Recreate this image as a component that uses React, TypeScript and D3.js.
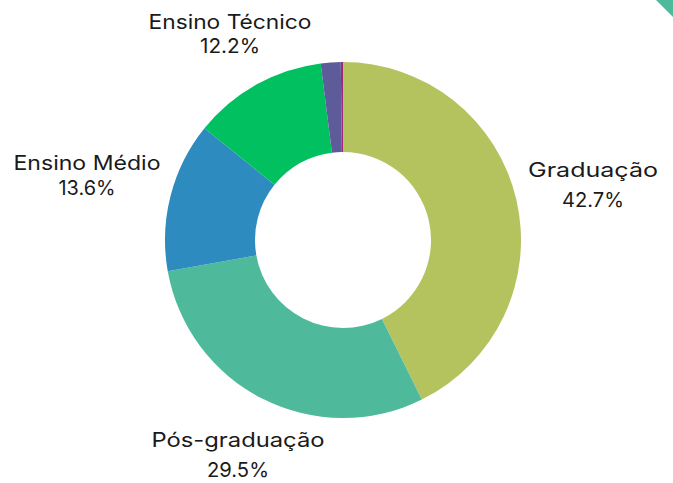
import React from "react";
import * as d3 from "d3";

const categories = ["Graduação", "Pós-graduação", "Ensino Médio", "Ensino Técnico", "Outros", "Sem resposta"];
const values = [42.7, 29.5, 13.6, 12.2, 1.8, 0.2];
const colors = ["#b5c35f", "#4fba9b", "#2e8bbf", "#00c060", "#5e5b9b", "#a0287a"];
const labels = [
  { name: "Graduação", pct: "42.7%", x: 593, y: 177, dy: 30, w1: 130, w2: 62 },
  { name: "Pós-graduação", pct: "29.5%", x: 238, y: 447, dy: 30, w1: 173, w2: 62 },
  { name: "Ensino Médio", pct: "13.6%", x: 87, y: 170, dy: 25, w1: 147, w2: 57 },
  { name: "Ensino Técnico", pct: "12.2%", x: 230, y: 29, dy: 24, w1: 163, w2: 60 },
];

export default function App() {
  const W = 673, H = 483;
  const cx = 343, cy = 240, outer = 178, inner = 88;
  const pie = d3.pie<number>().sort(null).value((d) => d);
  const arcs = pie(values);
  const arc = d3.arc<d3.PieArcDatum<number>>().innerRadius(inner).outerRadius(outer);
  return (
    <svg width={W} height={H} style={{ position: "absolute", left: 0, top: 0, background: "#fff" }}>
      <polygon points="656,0 673,0 673,17" fill="#4fba9b" />
      <g transform={`translate(${cx},${cy})`}>
        {arcs.map((a, i) => (
          <path key={categories[i]} d={arc(a) || ""} fill={colors[i]} />
        ))}
      </g>
      {labels.map((l) => (
        <g key={l.name} fontFamily="Inter, 'Noto Sans', sans-serif" fontSize={20} fill="#1a1a1a">
          <text x={l.x - l.w1 / 2} y={l.y} textLength={l.w1} lengthAdjust="spacingAndGlyphs">{l.name}</text>
          <text x={l.x - l.w2 / 2} y={l.y + l.dy} textLength={l.w2} lengthAdjust="spacingAndGlyphs">{l.pct}</text>
        </g>
      ))}
    </svg>
  );
}
